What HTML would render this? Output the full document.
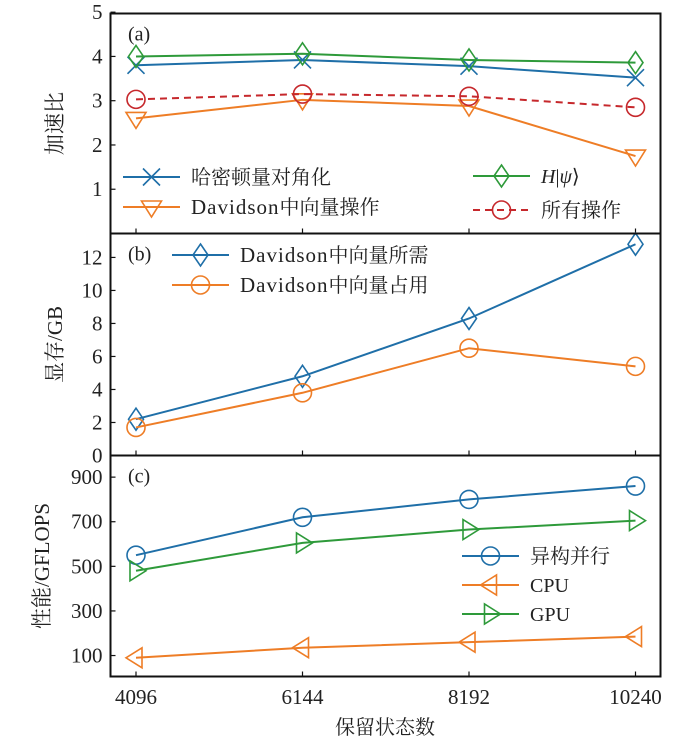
<!DOCTYPE html>
<html><head><meta charset="utf-8">
<style>
html,body{margin:0;padding:0;background:#fff;}
svg{display:block;font-family:"Liberation Serif","Noto Serif CJK SC",serif;}
text{font-family:"Liberation Serif","Noto Serif CJK SC",serif;}
.lat{font-family:"Liberation Serif",serif;}
</style></head>
<body>
<svg id="chart" width="693" height="745" viewBox="0 0 693 745" xmlns="http://www.w3.org/2000/svg"></svg>
<script>
const xCats = [4096, 6144, 8192, 10240];
const aDiag = [3.8, 3.92, 3.78, 3.52];
const aHpsi = [4.0, 4.06, 3.92, 3.86];
const aDav = [2.6, 3.02, 2.88, 1.75];
const aAll = [3.03, 3.15, 3.1, 2.85];
const bNeed = [2.2, 4.8, 8.3, 12.8];
const bUse = [1.7, 3.8, 6.5, 5.4];
const cHet = [550, 720, 800, 860];
const cCPU = [90, 135, 160, 185];
const cGPU = [480, 605, 665, 705];
const aTicks = [1, 2, 3, 4, 5];
const bTicks = [0, 2, 4, 6, 8, 10, 12];
const cTicks = [100, 300, 500, 700, 900];

const svg = document.getElementById('chart');
const NS = 'http://www.w3.org/2000/svg';
function mk(tag, attrs, parent) {
  const e = document.createElementNS(NS, tag);
  for (const k in attrs) e.setAttribute(k, attrs[k]);
  (parent || svg).appendChild(e);
  return e;
}
const L = 110.5, R = 660.5;
const xScale = v => 136 + (v - 4096) / 2048 * 166.5;
const panels = {
  a: {top: 13.5, bot: 233.5, min: 0, max: 4.97},
  b: {top: 233.5, bot: 455.5, min: 0, max: 13.45},
  c: {top: 455.5, bot: 676.5, min: 6, max: 997}
};
function yS(p) { return v => p.bot - (v - p.min) / (p.max - p.min) * (p.bot - p.top); }
const BLUE = '#1f6fa8', ORANGE = '#ee7d26', GREEN = '#2e9a3a', RED = '#c6282c';

function marker(g, type, x, y, color) {
  const s = 8.5;
  let e;
  if (type === 'x') {
    e = mk('path', {d:`M${x-s},${y-s}L${x+s},${y+s}M${x-s},${y+s}L${x+s},${y-s}`, stroke:color, 'stroke-width':1.6, fill:'none'}, g);
  } else if (type === 'dia') {
    e = mk('path', {d:`M${x},${y-11}L${x+7.5},${y}L${x},${y+11}L${x-7.5},${y}Z`, stroke:color, 'stroke-width':1.6, fill:'none'}, g);
  } else if (type === 'tdown') {
    e = mk('path', {d:`M${x-10},${y-6}L${x+10},${y-6}L${x},${y+10}Z`, stroke:color, 'stroke-width':1.6, fill:'none'}, g);
  } else if (type === 'tleft') {
    e = mk('path', {d:`M${x-10},${y}L${x+6},${y-10}L${x+6},${y+10}Z`, stroke:color, 'stroke-width':1.6, fill:'none'}, g);
  } else if (type === 'tright') {
    e = mk('path', {d:`M${x+10},${y}L${x-6},${y-10}L${x-6},${y+10}Z`, stroke:color, 'stroke-width':1.6, fill:'none'}, g);
  } else {
    e = mk('circle', {cx:x, cy:y, r:9, stroke:color, 'stroke-width':1.6, fill:'none'}, g);
  }
  
  
}
function series(name, p, vals, color, type, dash) {
  const g = mk('g', {});
  
  
  const y = yS(p);
  const pts = vals.map((v, i) => xScale(xCats[i]) + ',' + y(v)).join(' ');
  const pl = mk('polyline', {points:pts, fill:'none', stroke:color, 'stroke-width':2, 'stroke-dasharray': dash ? '7,5' : 'none'}, g);
  
  
  vals.forEach((v, i) => marker(g, type, xScale(xCats[i]), y(v), color));
}
function legend(name, x, y, color, type, dash, label, italic) {
  const g = mk('g', {});
  
  
  mk('line', {x1:x, y1:y, x2:x+57, y2:y, stroke:color, 'stroke-width':2, 'stroke-dasharray': dash ? '7,5' : 'none'}, g);
  marker(g, type, x + 28.5, y, color);
  const t = mk('text', {x:x+68, y:y+7, 'font-size':20, fill:'#222'}, g);
  if (italic) t.innerHTML = '<tspan class="lat" font-style="italic">H</tspan><tspan class="lat">|</tspan><tspan class="lat" font-style="italic">ψ</tspan>⟩';
  else if (label.startsWith('Davidson')) t.innerHTML = '<tspan class="lat" font-size="21" letter-spacing="1">Davidson</tspan>' + label.slice(8);
  else t.textContent = label;
}
function axes(key, ticks, label) {
  const p = panels[key], y = yS(p);
  const g = mk('g', {});
  
  
  ticks.forEach(t => {
    const yy = y(t);
    mk('line', {x1:L, y1:yy, x2:L+5, y2:yy, stroke:'#111', 'stroke-width':1.2}, g);
    const tx = mk('text', {x:L-8, y:yy+7, 'font-size':21, 'text-anchor':'end', fill:'#222'}, g);
    tx.textContent = t;
  });
  xCats.forEach(c => {
    mk('line', {x1:xScale(c), y1:p.bot, x2:xScale(c), y2:p.bot-5, stroke:'#111', 'stroke-width':1.2}, g);
  });
  const cy = (p.top + p.bot) / 2;
  const yl = mk('text', {x:0, y:0, 'font-size':21, 'text-anchor':'middle', fill:'#222', transform:`translate(${key==='c'?49:62},${cy}) rotate(-90)`}, g);
  
  
  yl.textContent = label;
  const pl = mk('text', {x:128, y:p.top + 27, 'font-size':20, fill:'#222'}, g);
  
  
  pl.textContent = '(' + key + ')';
}
axes('a', aTicks, '加速比');
axes('b', bTicks, '显存/GB');
axes('c', cTicks, '性能/GFLOPS');

series('series-diag', panels.a, aDiag, BLUE, 'x');
series('series-hpsi', panels.a, aHpsi, GREEN, 'dia');
series('series-dav-ops', panels.a, aDav, ORANGE, 'tdown');
series('series-all-ops', panels.a, aAll, RED, 'circ', true);
series('series-mem-need', panels.b, bNeed, BLUE, 'dia');
series('series-mem-use', panels.b, bUse, ORANGE, 'circ');
series('series-hetero', panels.c, cHet, BLUE, 'circ');
series('series-cpu', panels.c, cCPU, ORANGE, 'tleft');
series('series-gpu', panels.c, cGPU, GREEN, 'tright');

legend('legend-diag', 123, 177, BLUE, 'x', false, '哈密顿量对角化');
legend('legend-dav-ops', 123, 207, ORANGE, 'tdown', false, 'Davidson中向量操作');
legend('legend-hpsi', 473, 176, GREEN, 'dia', false, '', true);
legend('legend-all-ops', 473, 210, RED, 'circ', true, '所有操作');
legend('legend-mem-need', 172, 255, BLUE, 'dia', false, 'Davidson中向量所需');
legend('legend-mem-use', 172, 285, ORANGE, 'circ', false, 'Davidson中向量占用');
legend('legend-hetero', 462, 556, BLUE, 'circ', false, '异构并行');
legend('legend-cpu', 462, 585, ORANGE, 'tleft', false, 'CPU');
legend('legend-gpu', 462, 614, GREEN, 'tright', false, 'GPU');

['a','b','c'].forEach(k => {
  const p = panels[k];
  const r = mk('rect', {x:L, y:p.top, width:R-L, height:p.bot-p.top, fill:'none', stroke:'#111', 'stroke-width':2});
  
  
});
xCats.forEach(c => {
  const t = mk('text', {x:xScale(c), y:704, 'font-size':21, 'text-anchor':'middle', fill:'#222'});
  
  
  t.textContent = c;
});
const xt = mk('text', {x:385, y:734, 'font-size':20, 'text-anchor':'middle', fill:'#222'});


xt.textContent = '保留状态数';
</script>
</body></html>
